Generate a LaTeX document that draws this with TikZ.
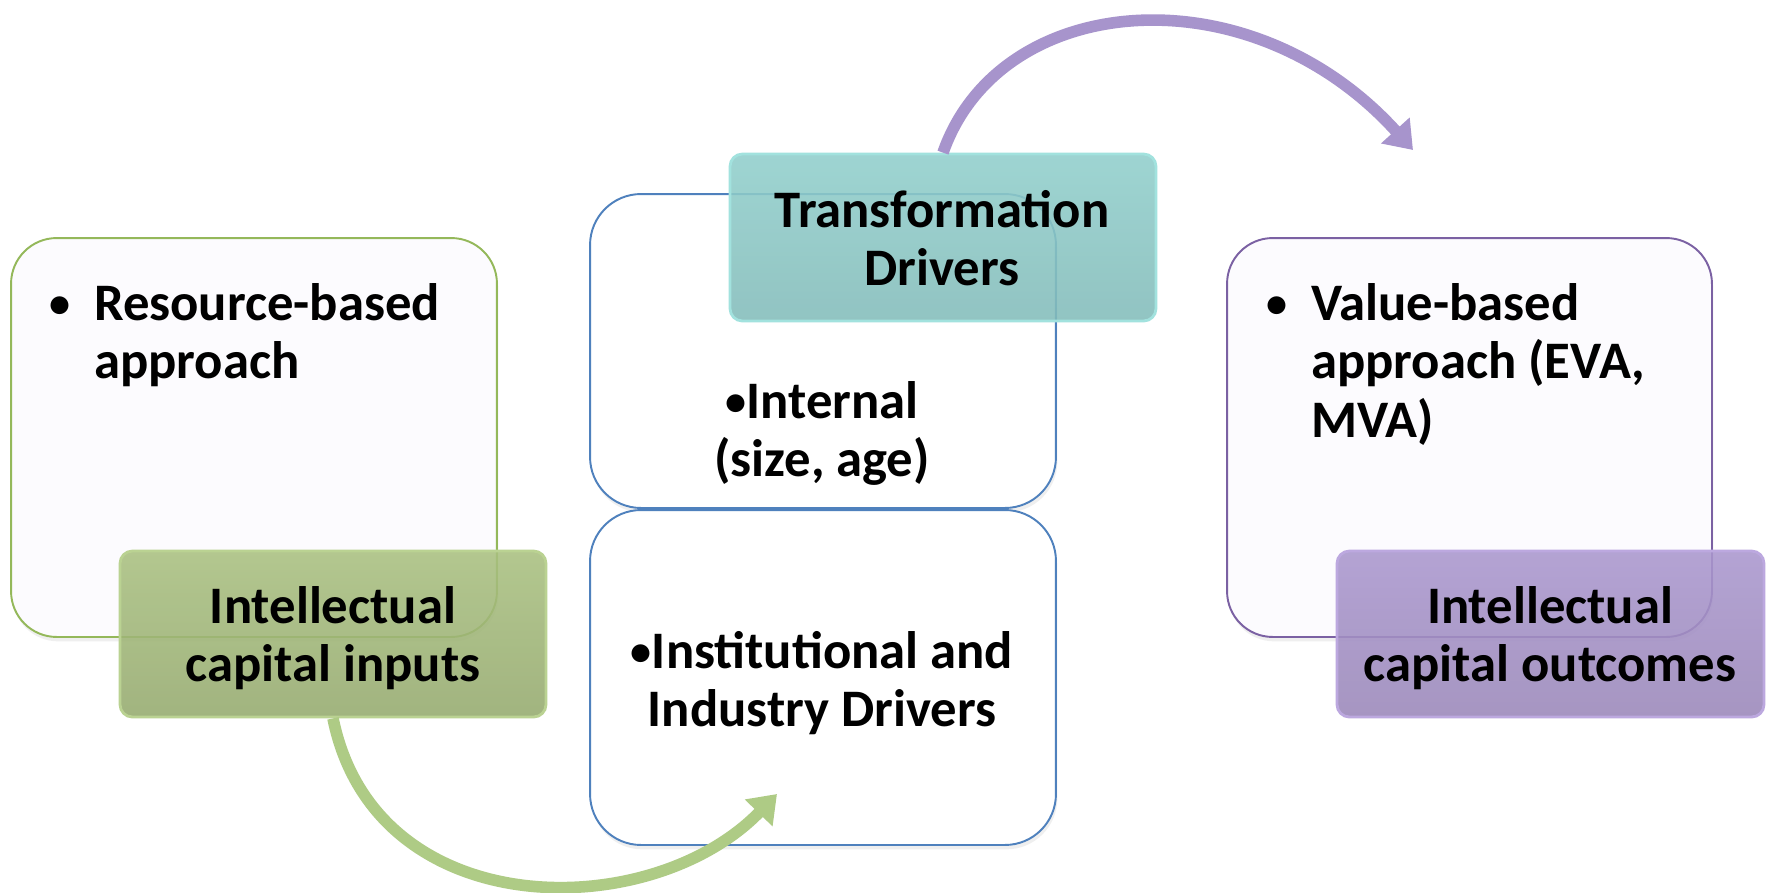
\documentclass[tikz,border=0pt]{standalone}
\usepackage{fontspec}
\setmainfont{Carlito}
\usetikzlibrary{arrows.meta,shadows}

\definecolor{panelfill}{HTML}{FCFBFE}
\definecolor{inline}{HTML}{94B85A}
\definecolor{outline}{HTML}{7B61A3}
\definecolor{midline}{HTML}{4F81BD}
\definecolor{greentop}{HTML}{A9C080}
\definecolor{greenbot}{HTML}{95AA6E}
\definecolor{greenrim}{HTML}{BAD292}
\definecolor{tealtop}{HTML}{91CFCC}
\definecolor{tealbot}{HTML}{83BCBA}
\definecolor{tealrim}{HTML}{A2E2DE}
\definecolor{purptop}{HTML}{AA97CE}
\definecolor{purpbot}{HTML}{9A87B9}
\definecolor{purprim}{HTML}{BCA8DF}
\definecolor{greenarrow}{HTML}{AECB85}
\definecolor{purparrow}{HTML}{A794CC}

\newcommand{\blt}{\raisebox{0.04em}{\scalebox{0.8}{•}}}

\begin{document}
\begin{tikzpicture}[x=0.02cm,y=-0.02cm]
\tikzset{
  txt/.style={font=\bfseries\fontsize{30}{33.5}\selectfont, inner sep=0pt, text=black},
  panel/.style={rounded corners=26pt, line width=1.1pt, fill=panelfill,
    drop shadow={opacity=0.12, shadow xshift=0.8pt, shadow yshift=-2.5pt}},
  midpanel/.style={panel, fill=white, draw=midline, rounded corners=29pt},
  tag/.style={rounded corners=7pt, line width=1.6pt, fill opacity=0.88},
  bigarrow/.style={line width=6.6pt, -{Triangle[width=21pt,length=15pt]}},
}
\useasboundingbox (0,0) rectangle (1766,893);
\fill[white] (0,0) rectangle (1766,893);

% outer panels
\node[panel, draw=inline, minimum width=9.72cm, minimum height=7.98cm] (inbox) at (254,437.5) {};
\node[panel, draw=outline, minimum width=9.70cm, minimum height=7.98cm] (outbox) at (1469.5,437.5) {};

% middle panels
\node[midpanel, minimum width=9.32cm, minimum height=6.28cm] (internal) at (823,351) {};
\node[midpanel, minimum width=9.32cm, minimum height=6.70cm] (institutional) at (823,677.5) {};

% coloured tags
\node[tag, draw=greenrim, top color=greentop, bottom color=greenbot,
      minimum width=8.52cm, minimum height=3.32cm] (inputs) at (333,634) {};
\node[tag, draw=tealrim, top color=tealtop, bottom color=tealbot,
      minimum width=8.52cm, minimum height=3.34cm] (drivers) at (943,237.5) {};
\node[tag, draw=purprim, top color=purptop, bottom color=purpbot,
      minimum width=8.54cm, minimum height=3.32cm] (outcomes) at (1550.5,634) {};

% texts
\node[txt, anchor=base west] (intxt) at (49,320)
  {\begin{tabular}[t]{@{}l@{}}\makebox[25.5pt][l]{\blt}Resource-based\\\hspace*{25.5pt}approach\end{tabular}};
\node[txt, anchor=base west] (outtxt) at (1266,320)
  {\begin{tabular}[t]{@{}l@{}}\makebox[25.5pt][l]{\blt}Value-based\\\hspace*{25.5pt}approach (EVA,\\\hspace*{25.5pt}MVA)\end{tabular}};
\node[txt, anchor=base] (inputstxt) at (333,623)
  {\begin{tabular}[t]{@{}c@{}}Intellectual\\capital inputs\end{tabular}};
\node[txt, anchor=base] (outcomestxt) at (1550,623)
  {\begin{tabular}[t]{@{}c@{}}Intellectual\\capital outcomes\end{tabular}};
\node[txt, anchor=base] (driverstxt) at (942,227)
  {\begin{tabular}[t]{@{}c@{}}Transformation\\Drivers\end{tabular}};
\node[txt, anchor=base] (internaltxt) at (822,418)
  {\begin{tabular}[t]{@{}c@{}}\blt Internal\\(size, age)\end{tabular}};
\node[txt, anchor=base] (institutionaltxt) at (822,668)
  {\begin{tabular}[t]{@{}c@{}}\blt Institutional and\\Industry Drivers\end{tabular}};

% connectors
\coordinate (intip) at (777,794);
\coordinate (outtip) at (1413,150);
\draw[bigarrow, greenarrow] (inputs.south) .. controls (375,925) and (650,925) .. (intip);
\draw[bigarrow, purparrow] (drivers.north) .. controls (1000,-10) and (1250,-30) .. (outtip);
\end{tikzpicture}
\end{document}
